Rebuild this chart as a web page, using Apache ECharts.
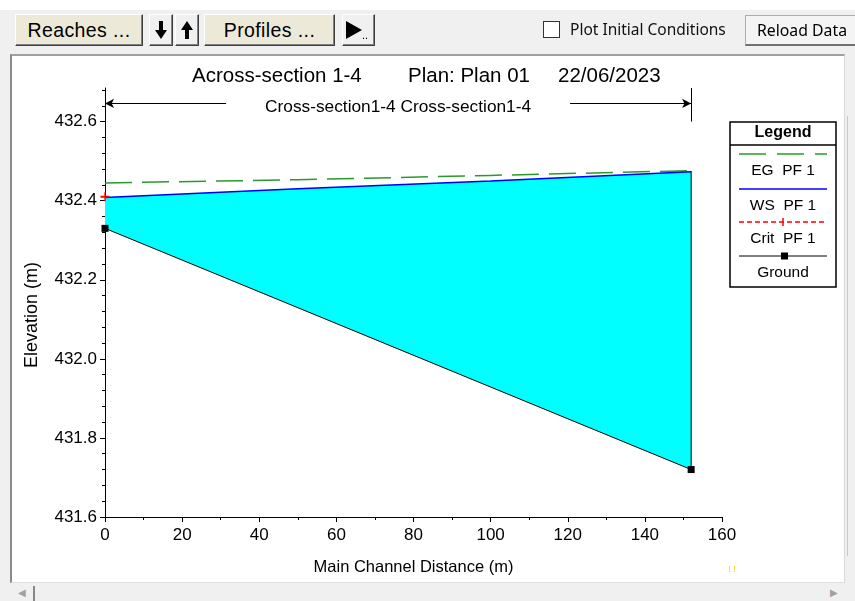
<!DOCTYPE html>
<html>
<head>
<meta charset="utf-8">
<script src="https://cdn.jsdelivr.net/npm/echarts@6/dist/echarts.min.js"></script>
<style>
  html,body{margin:0;padding:0;width:855px;height:601px;overflow:hidden;background:#f0f0f0;font-family:'Liberation Sans',Arial,sans-serif;}
  #topstrip{position:absolute;left:0;top:0;width:855px;height:10px;background:#fff;}
  .btn{position:absolute;top:14px;height:32px;box-sizing:border-box;background:#ece9d8;border:1px solid;border-color:#fff #404040 #404040 #fff;box-shadow:inset -1px -1px 0 #808080;font-size:19.5px;letter-spacing:0.4px;color:#000;display:flex;align-items:center;justify-content:center;z-index:3;}
  .gbtn{background:#f0f0f0;letter-spacing:0;}
  #panel{position:absolute;left:10px;top:54px;width:835px;height:529px;box-sizing:border-box;background:#fff;border-top:2px solid #a0a0a0;border-left:2px solid #8a8a8a;border-right:1px solid #d8d8d8;border-bottom:1px solid #e0e0e0;z-index:0;}
  #chart{position:absolute;left:0;top:0;width:855px;height:601px;z-index:1;}
  #chk{position:absolute;left:543px;top:21px;width:17px;height:17px;box-sizing:border-box;border:1px solid #333;background:#fff;z-index:3;}
  #chklbl{position:absolute;left:570px;top:18px;font-family:'Noto Sans',sans-serif;font-size:15.5px;color:#111;z-index:3;line-height:22px;}
  #reload{position:absolute;left:745px;top:15px;width:115px;height:31px;box-sizing:border-box;background:#f4f4f4;border:1px solid #adadad;border-bottom:2px solid #707070;font-family:'Noto Sans',sans-serif;font-size:15.8px;color:#000;padding-left:11px;line-height:28px;z-index:3;}
  #vscroll{position:absolute;left:846px;top:54px;width:9px;height:530px;background:#f0f0f0;z-index:3;}
  #vscroll .thumb{position:absolute;left:1px;top:62px;width:1px;height:440px;background:#c8c8c8;}
  #hscroll{position:absolute;left:10px;top:584px;width:836px;height:17px;background:#f0f0f0;z-index:3;}
  #hscroll .l{position:absolute;left:8px;top:3px;font-size:10px;color:#a0a0a0;}
  #hscroll .r{position:absolute;left:820px;top:3px;font-size:10px;color:#a0a0a0;}
  #hscroll .thumb{position:absolute;left:23px;top:2px;width:2px;height:15px;background:#888;}
</style>
</head>
<body>
<div id="topstrip"></div>
<div class="btn" style="left:15px;width:128px;">Reaches ...</div>
<div class="btn gbtn" style="left:149px;width:24px;"><svg width="12" height="18" viewBox="0 0 12 18"><rect x="4" y="0" width="4" height="10" fill="#000"/><polygon points="0,9 12,9 6,18" fill="#000"/></svg></div>
<div class="btn gbtn" style="left:175px;width:24px;"><svg width="12" height="18" viewBox="0 0 12 18"><rect x="4" y="8" width="4" height="10" fill="#000"/><polygon points="0,9 12,9 6,0" fill="#000"/></svg></div>
<div class="btn" style="left:204px;width:131px;">Profiles ...</div>
<div class="btn gbtn" style="left:342px;width:33px;justify-content:flex-start;padding-left:3px;"><svg width="16" height="18" viewBox="0 0 16 18"><polygon points="0,0 16,9 0,18" fill="#000"/></svg><span style="font-size:11px;margin-top:10px;">..</span></div>
<div id="chk"></div>
<div id="chklbl">Plot Initial Conditions</div>
<div id="reload">Reload Data</div>
<div id="panel"></div>
<div id="chart"></div>
<div id="vscroll"><div class="thumb"></div></div>
<div id="hscroll"><span class="l">&#9664;</span><div class="thumb"></div><span class="r">&#9654;</span></div>
<script>
// ---- data ----
var titleParts = ['Across-section 1-4', 'Plan: Plan 01', '22/06/2023'];
var reachLabel = 'Cross-section1-4 Cross-section1-4';
var xTicks = [0, 20, 40, 60, 80, 100, 120, 140, 160];
var yTickLabels = [431.6, 431.8, 432.0, 432.2, 432.4, 432.6];
// Ground (station, elevation)
var groundX = [0, 152, 152];
var groundY = [432.33, 431.72, 432.475];
// Water surface PF 1
var wsX = [0, 50, 100, 152];
var wsY = [432.408, 432.43, 432.45, 432.473];
// Energy grade PF 1
var egX = [0, 50, 100, 152];
var egY = [432.445, 432.453, 432.464, 432.476];
// Critical PF 1
var critX = [0];
var critY = [432.41];
// reach extent marker
var reachStart = 0, reachEnd = 152, reachArrowY = 432.646;

var yMin = 431.6, yMax = 432.685;
var yMinor = [];
for (var k = 0; k <= 27; k++) { yMinor.push(+(yMin + k * 0.04).toFixed(2)); }

function pairs(xs, ys) { return xs.map(function (x, i) { return [x, ys[i]]; }); }
var groundData = pairs(groundX, groundY).map(function (p, i) {
  return i < 2 ? { value: p } : { value: p, symbol: 'none' };
});
var wsData = pairs(wsX, wsY);
var egData = pairs(egX, egY);
var critData = pairs(critX, critY);
// water polygon: water surface left->right, then ground right->left
var waterPoly = wsData.concat(pairs(groundX.slice(0, 2), groundY.slice(0, 2)).reverse());

var FONT = "'Liberation Sans', Arial, sans-serif";
var chart = echarts.init(document.getElementById('chart'), null, { renderer: 'canvas' });

var legendItems = [
  { label: 'EG  PF 1', y: 154, color: '#2a9a2a', dash: [27, 11], sym: null },
  { label: 'WS  PF 1', y: 189, color: '#0000ff', dash: null, sym: null },
  { label: 'Crit  PF 1', y: 222, color: '#ff0000', dash: [5, 3], sym: 'plus' },
  { label: 'Ground', y: 256, color: '#000000', dash: null, sym: 'rect' }
];
var legendEls = [
  { type: 'rect', shape: { x: 730, y: 122, width: 106, height: 165 }, style: { fill: '#fff', stroke: '#000', lineWidth: 1.5 } },
  { type: 'line', shape: { x1: 730, y1: 145, x2: 836, y2: 145 }, style: { stroke: '#000', lineWidth: 1.5 } },
  { type: 'text', x: 783, y: 133, style: { text: 'Legend', font: 'bold 16px ' + FONT, fill: '#000', align: 'center', verticalAlign: 'middle' } }
];
legendItems.forEach(function (it) {
  legendEls.push({ type: 'line', shape: { x1: 739, y1: it.y, x2: 827, y2: it.y }, style: { stroke: it.color, lineWidth: it.color === '#000000' ? 1 : 1.5, lineDash: it.dash } });
  if (it.sym === 'rect') legendEls.push({ type: 'rect', shape: { x: 781, y: it.y - 3.5, width: 7, height: 7 }, style: { fill: '#000' } });
  if (it.sym === 'plus') legendEls.push({ type: 'line', shape: { x1: 783, y1: it.y - 4, x2: 783, y2: it.y + 4 }, style: { stroke: '#ff0000', lineWidth: 1.5 } });
  legendEls.push({ type: 'text', x: 783, y: it.y + 17, style: { text: it.label, font: '15.5px ' + FONT, fill: '#000', align: 'center', verticalAlign: 'middle' } });
});

var titleLefts = [192, 408, 558];
var titleEls = titleParts.map(function (t, i) {
  return { type: 'text', x: titleLefts[i], y: 76, style: { text: t, font: '20.5px ' + FONT, fill: '#000', align: 'left', verticalAlign: 'middle' } };
});

var option = {
  animation: false,
  backgroundColor: 'transparent',
  textStyle: { fontFamily: FONT },
  grid: { left: 105, right: 133, top: 88, bottom: 84, containLabel: false },
  xAxis: {
    type: 'value', min: xTicks[0], max: xTicks[xTicks.length - 1], interval: 20,
    name: 'Main Channel Distance (m)', nameLocation: 'middle', nameGap: 42,
    nameTextStyle: { fontSize: 16.5, color: '#000', fontFamily: FONT },
    axisLine: { show: true, onZero: false, lineStyle: { color: '#000', width: 1 } },
    axisTick: { show: true, length: 5, lineStyle: { color: '#000' } },
    minorTick: { show: true, splitNumber: 2, length: 3, lineStyle: { color: '#000' } },
    axisLabel: { fontSize: 17, color: '#000', margin: 10, fontFamily: FONT },
    splitLine: { show: false }
  },
  yAxis: [{
    type: 'value', min: yMin, max: yMax,
    axisLine: { show: true, onZero: false, lineStyle: { color: '#000', width: 1 } },
    axisTick: { show: true, length: 5, customValues: yTickLabels, lineStyle: { color: '#000' } },
    axisLabel: { fontSize: 17, color: '#000', margin: 8, customValues: yTickLabels, fontFamily: FONT,
      formatter: function (v) { return (+v).toFixed(1); } },
    splitLine: { show: false }
  }, {
    type: 'value', min: yMin, max: yMax, position: 'left',
    axisLine: { show: false },
    axisTick: { show: true, length: 3, customValues: yMinor, lineStyle: { color: '#000' } },
    axisLabel: { show: false },
    splitLine: { show: false }
  }],
  graphic: titleEls.concat(legendEls).concat([
    { type: 'text', x: 32, y: 315, rotation: Math.PI / 2, style: { text: 'Elevation (m)', font: '18px ' + FONT, fill: '#000', align: 'center', verticalAlign: 'middle' } },
    { type: 'text', x: 732, y: 570, style: { text: '! !', font: '9px ' + FONT, fill: '#f0d000', align: 'center', verticalAlign: 'middle' } }
  ]),
  series: [
    {
      type: 'custom', name: 'water', z: 1, silent: true,
      data: [[0, 432.33]],
      renderItem: function (params, api) {
        var pts = waterPoly.map(function (p) { return api.coord(p); });
        return { type: 'polygon', shape: { points: pts }, style: { fill: '#00ffff' } };
      }
    },
    {
      type: 'line', name: 'EG PF 1', z: 3, data: egData, symbol: 'none',
      lineStyle: { color: '#2a9a2a', width: 1.5, type: [27, 10] }
    },
    {
      type: 'line', name: 'WS PF 1', z: 4, data: wsData, symbol: 'none',
      lineStyle: { color: '#0000ff', width: 1.5 }
    },
    {
      type: 'line', name: 'Crit PF 1', z: 5, data: critData,
      symbol: 'path://M0,4.3H10V5.7H0Z M4.3,2H5.7V8H4.3Z', symbolSize: 9,
      itemStyle: { color: '#ff0000' }, lineStyle: { color: '#ff0000', type: [5, 3] }
    },
    {
      type: 'line', name: 'Ground', z: 6, data: groundData,
      symbol: 'rect', symbolSize: 7, showAllSymbol: true,
      itemStyle: { color: '#000' }, lineStyle: { color: '#000', width: 1 },
      markLine: {
        silent: true, animation: false,
        symbol: ['none', 'none'],
        label: { show: false },
        lineStyle: { color: '#000', width: 1, type: 'solid' },
        data: [
          [{ coord: [reachStart, reachArrowY], symbol: 'arrow', symbolSize: [7, 9] }, { coord: [31.4, reachArrowY], symbol: 'none' }],
          [{ coord: [120.6, reachArrowY], symbol: 'none' }, { coord: [reachEnd, reachArrowY], symbol: 'arrow', symbolSize: [7, 9] }],
          [{ coord: [reachStart, yMax] }, { coord: [reachStart, 432.6] }],
          [{ coord: [reachEnd, yMax] }, { coord: [reachEnd, 432.6] }]
        ]
      },
      markPoint: {
        silent: true, animation: false,
        symbol: 'circle', symbolSize: 0,
        data: [{ coord: [(reachStart + reachEnd) / 2, 432.636], label: { show: true, position: 'inside', formatter: reachLabel, fontSize: 17.3, color: '#000', fontFamily: FONT } }]
      }
    }
  ]
};
chart.setOption(option);
</script>
</body>
</html>
